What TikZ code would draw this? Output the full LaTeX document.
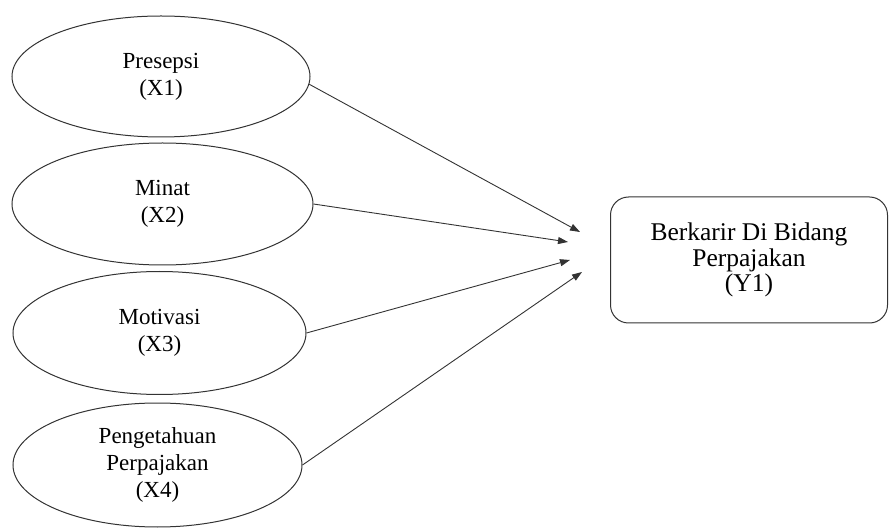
\documentclass[tikz,border=0pt]{standalone}
\usepackage{fontspec}
\setmainfont{Liberation Serif}
\usetikzlibrary{shapes.geometric,arrows.meta}
\begin{document}
\begin{tikzpicture}[x=1pt,y=-1pt,
  var/.style={ellipse, draw=black!80, line width=1pt, inner sep=0pt, align=center,
    font=\fontsize{23}{27}\selectfont, text=black},
  dep/.style={rectangle, rounded corners=18pt, draw=black!80, line width=1pt, inner sep=0pt,
    align=center, font=\fontsize{25.5}{25.5}\selectfont, text=black,
    minimum width=277pt, minimum height=126pt},
  link/.style={draw=black!80, line width=0.9pt, -{Triangle[length=10pt,width=7pt]}}]
\useasboundingbox (0,0) rectangle (892,529);
\node[var, minimum width=298pt, minimum height=121pt] (e1) at (161,76.5) {Presepsi\\(X1)};
\node[var, minimum width=301pt, minimum height=122pt] (e2) at (162.5,204) {Minat\\(X2)};
\node[var, minimum width=293pt, minimum height=123pt] (e3) at (159.5,333) {Motivasi\\(X3)};
\node[var, minimum width=289pt, minimum height=124pt] (e4) at (157.5,465) {Pengetahuan\\Perpajakan\\(X4)};
\node[dep] (y) at (749,260) {Berkarir Di Bidang\\Perpajakan\\(Y1)};
\coordinate (t1) at (580,232);
\coordinate (t2) at (568,242);
\coordinate (t3) at (570,260);
\coordinate (t4) at (582,272);
\draw[link] (e1.-3) -- (t1);
\draw[link] (e2.east) -- (t2);
\draw[link] (e3.east) -- (t3);
\draw[link] (e4.east) -- (t4);
\end{tikzpicture}
\end{document}
